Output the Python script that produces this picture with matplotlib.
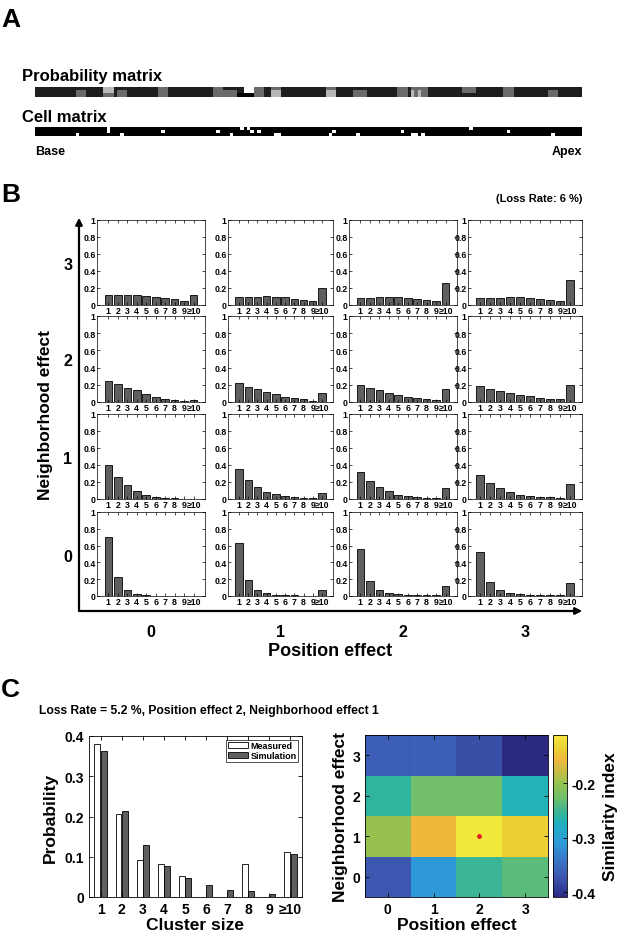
import numpy as np
import matplotlib.pyplot as plt
from matplotlib.colors import LinearSegmentedColormap
from matplotlib.transforms import ScaledTranslation

plt.rcParams['font.family'] = ['Liberation Sans', 'DejaVu Sans']
plt.rcParams['font.weight'] = 'bold'
plt.rcParams['axes.labelweight'] = 'bold'

W, H = 617, 937

# ---- panel A: one stretch of the 3 outer hair cell rows ----
n_cols = 160
background_level = 0.12
# (first col, last col, gray level) per row
prob_top = [(20, 22, 0.72), (36, 38, 0.42), (52, 54, 0.42), (61, 63, 1.0), (64, 66, 0.42),
            (69, 71, 0.42), (85, 87, 0.42), (106, 108, 0.42), (110, 114, 0.42),
            (125, 128, 0.42), (137, 139, 0.42)]
prob_mid = [(12, 14, 0.42), (20, 22, 0.72), (24, 26, 0.42), (36, 38, 0.42), (52, 54, 0.42),
            (55, 58, 0.42), (61, 63, 1.0), (64, 66, 0.42), (69, 71, 0.72), (85, 87, 0.72),
            (93, 96, 0.42), (106, 108, 0.42), (110, 110, 0.72), (111, 111, 0.42),
            (112, 112, 0.72), (113, 114, 0.42), (125, 128, 0.42), (137, 139, 0.42),
            (150, 152, 0.42)]
prob_bottom = [(12, 14, 0.42), (20, 22, 0.42), (24, 26, 0.42), (36, 38, 0.42), (52, 54, 0.42),
               (55, 58, 0.42), (59, 63, 0.0), (64, 66, 0.42), (69, 71, 0.72), (85, 87, 0.72),
               (93, 96, 0.42), (106, 108, 0.42), (110, 110, 0.72), (111, 111, 0.42),
               (112, 112, 0.72), (113, 114, 0.42), (137, 139, 0.42), (150, 152, 0.42)]
lost_top = [21, 60, 62, 127]
lost_mid = [21, 37, 53, 63, 65, 87, 107, 138]
lost_bottom = [12, 25, 57, 70, 71, 86, 94, 110, 111, 113, 151]

# ---- panel B: cluster size distributions, [position 0..3] for each neighborhood level ----
size_labels = ['1', '2', '3', '4', '5', '6', '7', '8', '9', '≥10']
effect_levels = ['0', '1', '2', '3']
neigh3 = [[0.12, 0.115, 0.12, 0.12, 0.11, 0.095, 0.08, 0.065, 0.045, 0.12],
          [0.10, 0.10, 0.10, 0.11, 0.10, 0.09, 0.07, 0.06, 0.05, 0.20],
          [0.087, 0.087, 0.095, 0.10, 0.095, 0.085, 0.07, 0.063, 0.045, 0.256],
          [0.085, 0.085, 0.085, 0.095, 0.09, 0.08, 0.07, 0.055, 0.045, 0.295]]
neigh2 = [[0.25, 0.21, 0.16, 0.135, 0.095, 0.058, 0.035, 0.023, 0.015, 0.02],
          [0.22, 0.18, 0.146, 0.12, 0.092, 0.062, 0.042, 0.03, 0.015, 0.104],
          [0.20, 0.165, 0.138, 0.11, 0.085, 0.062, 0.046, 0.03, 0.02, 0.154],
          [0.185, 0.154, 0.13, 0.108, 0.085, 0.065, 0.046, 0.035, 0.03, 0.20]]
neigh1 = [[0.395, 0.257, 0.162, 0.095, 0.047, 0.024, 0.012, 0.008, 0.004, 0.004],
          [0.356, 0.225, 0.142, 0.087, 0.055, 0.032, 0.02, 0.012, 0.008, 0.071],
          [0.32, 0.21, 0.138, 0.09, 0.051, 0.035, 0.02, 0.012, 0.012, 0.126],
          [0.285, 0.19, 0.134, 0.087, 0.051, 0.035, 0.024, 0.02, 0.012, 0.178]]
neigh0 = [[0.70, 0.222, 0.075, 0.02, 0.008, 0.004, 0.002, 0.001, 0.001, 0.001],
          [0.63, 0.195, 0.067, 0.032, 0.012, 0.008, 0.008, 0.004, 0.004, 0.067],
          [0.56, 0.175, 0.071, 0.04, 0.024, 0.012, 0.008, 0.008, 0.008, 0.115],
          [0.52, 0.167, 0.071, 0.04, 0.024, 0.012, 0.012, 0.008, 0.008, 0.159]]

# ---- panel C ----
measured = [0.381, 0.205, 0.092, 0.082, 0.051, 0.0, 0.0, 0.082, 0.0, 0.112]
simulation = [0.363, 0.214, 0.130, 0.076, 0.046, 0.031, 0.017, 0.014, 0.008, 0.106]
# similarity index, rows = neighborhood effect 0..3, cols = position effect 0..3
similarity = [[-0.370, -0.311, -0.252, -0.237],
              [-0.201, -0.157, -0.112, -0.136],
              [-0.260, -0.225, -0.225, -0.269],
              [-0.364, -0.362, -0.379, -0.409]]
best_position, best_neighborhood = 2, 1

# parula-like map, toned to the printed figure
parula = LinearSegmentedColormap.from_list('parula', [
    (0.00, '#2b2980'), (0.03, '#2e3490'), (0.10, '#3a4fa8'), (0.14, '#3d5bb4'),
    (0.24, '#3879c8'), (0.33, '#2d9ad8'), (0.42, '#22aac8'), (0.47, '#22b2b8'),
    (0.50, '#2fb5a0'), (0.53, '#3db596'), (0.58, '#5bbb7b'), (0.62, '#72c069'),
    (0.70, '#95c250'), (0.78, '#c9bd45'), (0.85, '#f0b83c'), (0.92, '#ebcf35'),
    (1.00, '#f3e83c')])


def px_axes(fig, x0, y0, x1, y1):
    return fig.add_axes([x0 / W, 1 - y1 / H, (x1 - x0) / W, (y1 - y0) / H])


def put_text(fig, x, y, s, **kw):
    fig.text(x / W, 1 - y / H, s, **kw)


def matlab_box(ax, lw=0.6):
    for sp in ax.spines.values():
        sp.set_linewidth(lw)
    ax.tick_params(direction='in', top=True, right=True, width=lw)


fig = plt.figure(figsize=(W / 100, H / 100), dpi=100)

# ---------------- A ----------------
put_text(fig, 1, 20, 'A', fontsize=19, va='center', ha='left')
put_text(fig, 22, 76, 'Probability matrix', fontsize=12, va='center')
put_text(fig, 22, 117, 'Cell matrix', fontsize=12, va='center')
put_text(fig, 35, 152, 'Base', fontsize=9, va='center')
put_text(fig, 582, 152, 'Apex', fontsize=9, va='center', ha='right')

prob = np.full((3, n_cols), background_level)
for r, segs in enumerate([prob_top, prob_mid, prob_bottom]):
    for c0, c1, level in segs:
        prob[r, c0:c1 + 1] = level
cells = np.zeros((3, n_cols))
for r, lost in enumerate([lost_top, lost_mid, lost_bottom]):
    cells[r, lost] = 1

for (y0, y1), mat in [((88, 98), prob), ((128, 137), cells)]:
    ax = px_axes(fig, 35, y0, 582, y1)
    ax.imshow(mat, cmap='gray', vmin=0, vmax=1, aspect='auto', interpolation='nearest')
    ax.axis('off')

# ---------------- B ----------------
put_text(fig, 1, 195, 'B', fontsize=19, va='center', ha='left')
put_text(fig, 582, 199, '(Loss Rate: 6 %)', fontsize=8, va='center', ha='right')

col_edges = [(97, 205), (228, 333), (349, 457), (468, 582)]
row_edges = [(221, 306), (317, 403), (415, 500), (513, 597)]
x = np.arange(1, 11)
nudge = ScaledTranslation(3 / 100, 0, fig.dpi_scale_trans)
for row, dists in enumerate([neigh3, neigh2, neigh1, neigh0]):
    for col, dist in enumerate(dists):
        ax = px_axes(fig, col_edges[col][0], row_edges[row][0], col_edges[col][1], row_edges[row][1])
        ax.bar(x, dist, width=0.8, color='#5f5f5f', edgecolor='black', linewidth=0.6)
        ax.set_xlim(-0.2, 11.2)
        ax.set_ylim(0, 1)
        ax.set_xticks(x)
        ax.set_xticklabels(size_labels, fontsize=6.3)
        last = ax.get_xticklabels()[-1]
        last.set_transform(last.get_transform() + nudge)
        ax.set_yticks(np.arange(0, 1.01, 0.2))
        ax.set_yticklabels(['0', '0.2', '0.4', '0.6', '0.8', '1'], fontsize=6.3)
        matlab_box(ax, 0.5)
        ax.tick_params(length=2, pad=1)

ov = fig.add_axes([0, 0, 1, 1])
ov.set_xlim(0, W)
ov.set_ylim(H, 0)
ov.axis('off')
ov.plot([79, 79, 575], [224, 612, 612], color='black', lw=1.6)
ov.annotate('', xy=(79, 216), xytext=(79, 230),
            arrowprops=dict(arrowstyle='-|>', color='black', lw=1.6, mutation_scale=10))
ov.annotate('', xy=(585, 612), xytext=(570, 612),
            arrowprops=dict(arrowstyle='-|>', color='black', lw=1.6, mutation_scale=10))

for row, lbl in enumerate(['3', '2', '1', '0']):
    put_text(fig, 68, (row_edges[row][0] + row_edges[row][1]) / 2 + 2, lbl, fontsize=11.5,
             ha='center', va='center')
for col, lbl in enumerate(effect_levels):
    put_text(fig, (col_edges[col][0] + col_edges[col][1]) / 2, 633, lbl, fontsize=11.5,
             ha='center', va='center')
put_text(fig, 46, 415, 'Neighborhood effect', fontsize=12.5, rotation=90, ha='center', va='center')
put_text(fig, 330, 652, 'Position effect', fontsize=13, ha='center', va='center')

# ---------------- C ----------------
put_text(fig, 1, 690, 'C', fontsize=19, va='center', ha='left')
put_text(fig, 39, 711, 'Loss Rate = 5.2 %, Position effect 2, Neighborhood effect 1',
         fontsize=8.7, va='center')

ax = px_axes(fig, 89, 737, 302, 898)
ax.bar(x - 0.15, measured, width=0.28, color='white', edgecolor='black', linewidth=0.6,
       label='Measured')
ax.bar(x + 0.15, simulation, width=0.28, color='#5f5f5f', edgecolor='black', linewidth=0.6,
       label='Simulation')
ax.set_xlim(0.45, 10.55)
ax.set_ylim(0, 0.4)
ax.set_xticks(x)
ax.set_xticklabels(size_labels, fontsize=10)
ax.set_yticks([0, 0.1, 0.2, 0.3, 0.4])
ax.set_yticklabels(['0', '0.1', '0.2', '0.3', '0.4'], fontsize=10)
matlab_box(ax, 0.6)
ax.tick_params(length=3)
ax.set_xlabel('Cluster size', fontsize=12.5, labelpad=1)
ax.set_ylabel('Probability', fontsize=12.5, labelpad=5)
leg = ax.legend(loc='upper right', fontsize=6.5, frameon=True, fancybox=False,
                borderpad=0.2, handlelength=2.2, handletextpad=0.3, labelspacing=0.05,
                borderaxespad=0.4)
leg.get_frame().set_edgecolor('black')
leg.get_frame().set_linewidth(0.6)

ax = px_axes(fig, 365, 736, 548, 898)
sim = np.array(similarity)
mesh = ax.imshow(sim, cmap=parula, origin='lower', aspect='auto',
                 extent=(-0.5, 3.5, -0.5, 3.5), interpolation='nearest')
ax.plot(best_position, best_neighborhood, 'o', color='#e02020', markersize=2.5)
ax.set_xticks(range(4))
ax.set_xticklabels(effect_levels, fontsize=10)
ax.set_yticks(range(4))
ax.set_yticklabels(effect_levels, fontsize=10)
matlab_box(ax, 0.6)
ax.tick_params(length=3)
ax.set_xlabel('Position effect', fontsize=12.5, labelpad=1)
ax.set_ylabel('Neighborhood effect', fontsize=12.5, labelpad=3)

cax = px_axes(fig, 553, 736, 567, 898)
cb = fig.colorbar(mesh, cax=cax)
cb.set_ticks([-0.4, -0.3, -0.2])
cb.set_ticklabels(['-0.4', '-0.3', '-0.2'])
cb.ax.tick_params(direction='in', labelsize=10, length=3, width=0.6)
cb.outline.set_linewidth(0.6)
cb.set_label('Similarity index', fontsize=12.5, labelpad=5)

fig.savefig('out.png', dpi=100)
